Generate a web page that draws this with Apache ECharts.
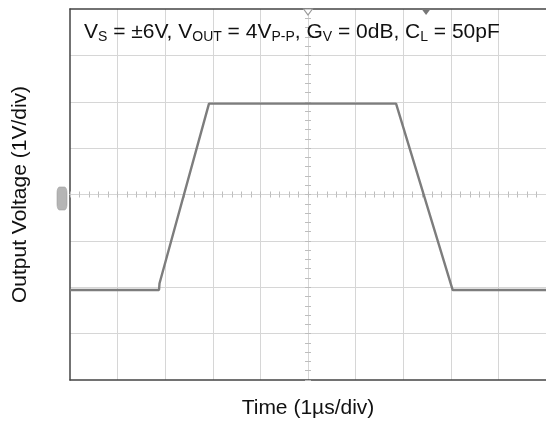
<!DOCTYPE html>
<html>
<head>
<meta charset="utf-8">
<script src="https://cdn.jsdelivr.net/npm/echarts@6/dist/echarts.min.js"></script>
<style>
html,body{margin:0;padding:0;background:#fff;overflow:hidden;}
#chart{width:546px;height:427px;}
</style>
</head>
<body>
<div id="chart"></div>
<script>
// Time in µs relative to screen centre (1 µs/div), voltage in V (1 V/div)
var timeUs  = [-5.0, -3.13, -3.12, -2.08, 1.85, 3.04, 5.0];
var voltage = [-2.06, -2.06, -1.92, 1.96, 1.96, -2.06, -2.06];
var xRange = [-5, 5];
var yRange = [-4, 4];
var xName = 'Time (1µs/div)';
var yName = 'Output Voltage (1V/div)';
var conditionText = '{n|V}{s|S}{n| = ±6V, V}{s|OUT}{n| = 4V}{s|P-P}{n|, G}{s|V}{n| = 0dB, C}{s|L}{n| = 50pF}';
var triggerPos = [0, 4];
var triggerLevelPos = [2.48, 4];
var groundPos = [-5, 0];

var FONT = '"Liberation Sans", Arial, Helvetica, sans-serif';
var GRIDC = '#d6d6d6';
var TICKC = '#bdbdbd';
var FRAMEC = '#444';

var traceData = timeUs.map(function (t, i) { return [t, voltage[i]]; });

function centerAxis(pos, range, withSplit) {
  return {
    type: 'value', min: range[0], max: range[1], interval: 1,
    position: pos,
    axisLine: { show: true, onZero: true, onZeroAxisIndex: 0, lineStyle: { color: GRIDC, width: 1 } },
    axisTick: { show: true, inside: false, length: 3, lineStyle: { color: TICKC } },
    minorTick: { show: true, splitNumber: 5, length: 3, lineStyle: { color: TICKC } },
    axisLabel: { show: false },
    splitLine: withSplit ? { show: true, showMinLine: false, showMaxLine: false, lineStyle: { color: GRIDC, width: 1 } } : { show: false }
  };
}

function frameAxis(pos, range, name, gap) {
  var a = {
    type: 'value', min: range[0], max: range[1], interval: 1,
    position: pos,
    axisLine: { show: true, onZero: false, lineStyle: { color: FRAMEC, width: 1.5 } },
    axisTick: { show: false }, axisLabel: { show: false }, splitLine: { show: false }
  };
  if (name) {
    a.name = name; a.nameLocation = 'middle'; a.nameGap = gap;
    a.nameTextStyle = { fontFamily: FONT, fontSize: 21, fontWeight: 'normal', color: '#111' };
  }
  return a;
}

var chart = echarts.init(document.getElementById('chart'), null, { renderer: 'canvas' });
chart.setOption({
  backgroundColor: '#fff',
  animation: false,
  title: {
    text: conditionText,
    left: 79, top: 16,
    textStyle: {
      fontWeight: 'normal',
      rich: {
        n: { fontFamily: FONT, fontSize: 21, fontWeight: 'normal', color: '#111', lineHeight: 23 },
        s: { fontFamily: FONT, fontSize: 14, fontWeight: 'normal', color: '#111', lineHeight: 14, verticalAlign: 'bottom' }
      }
    }
  },
  grid: {
    left: 70, top: 9, width: 477, height: 371,
    show: false, containLabel: false
  },
  xAxis: [
    centerAxis('bottom', xRange, true),
    centerAxis('top', xRange, false),
    frameAxis('bottom', xRange, xName, 18),
    frameAxis('top', xRange, null, 0)
  ],
  yAxis: [
    centerAxis('left', yRange, true),
    centerAxis('right', yRange, false),
    frameAxis('left', yRange, yName, 39)
  ],
  series: [{
    type: 'line',
    xAxisIndex: 0, yAxisIndex: 0,
    data: traceData,
    showSymbol: false,
    lineStyle: { color: '#7d7d7d', width: 2.4 },
    z: 5,
    markPoint: {
      silent: true,
      label: { show: false },
      data: [
        { coord: triggerPos, symbol: 'triangle', symbolSize: [9, 6], symbolRotate: 180, symbolOffset: [0, 3],
          itemStyle: { color: '#fff', borderColor: '#999', borderWidth: 1 } },
        { coord: triggerLevelPos, symbol: 'triangle', symbolSize: [9, 6], symbolRotate: 180, symbolOffset: [0, 3],
          itemStyle: { color: '#777' } },
        { coord: groundPos, symbol: 'roundRect', symbolSize: [10, 23], symbolOffset: [-8, 4],
          itemStyle: { color: '#b5b5b5', borderColor: '#999', borderWidth: 0.5 } }
      ]
    }
  }]
});
</script>
</body>
</html>
